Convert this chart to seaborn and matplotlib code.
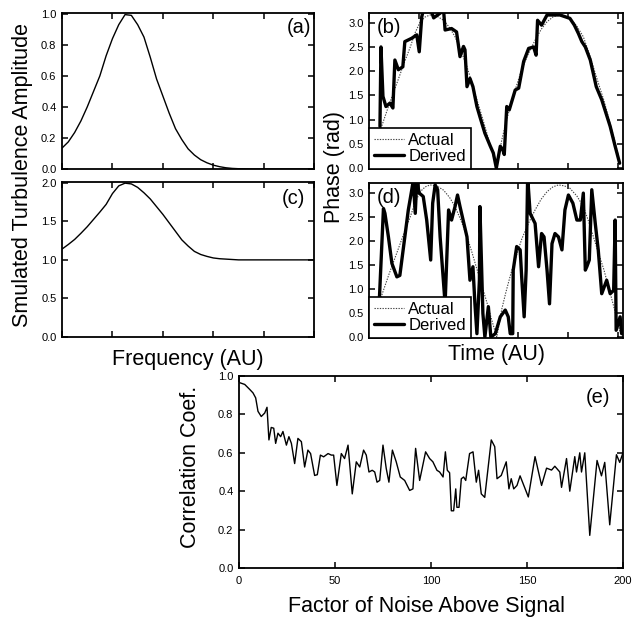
import matplotlib
matplotlib.use("Agg")
import matplotlib.pyplot as plt
import seaborn as sns

# (a) / (c) spectra, frequency in arbitrary units (0..1)
freq = [0.0, 0.025, 0.05, 0.075, 0.1, 0.125, 0.15, 0.175, 0.2, 0.225, 0.25,
        0.275, 0.3, 0.325, 0.35, 0.375, 0.4, 0.425, 0.45, 0.475, 0.5,
        0.525, 0.55, 0.575, 0.6, 0.625, 0.65, 0.675, 0.7, 0.75, 0.8, 0.9, 1.0]
amp_a = [0.135, 0.175, 0.235, 0.31, 0.40, 0.50, 0.60, 0.73, 0.84, 0.93, 0.995,
         0.99, 0.93, 0.85, 0.72, 0.58, 0.47, 0.36, 0.26, 0.19, 0.13,
         0.09, 0.06, 0.04, 0.025, 0.015, 0.008, 0.004, 0.002, 0.0, 0.0, 0.0, 0.0]
amp_c = [1.14, 1.20, 1.265, 1.345, 1.43, 1.525, 1.62, 1.72, 1.86, 1.96, 1.995,
         1.985, 1.94, 1.87, 1.79, 1.69, 1.59, 1.48, 1.37, 1.26, 1.18,
         1.11, 1.07, 1.045, 1.025, 1.015, 1.01, 1.005, 1.0, 1.0, 1.0, 1.0, 1.0]

# (b) / (d) phase, time in arbitrary units
t_actual = [0.24, 0.40, 0.56, 0.70, 0.83, 0.93, 1.03, 1.13, 1.23, 1.36, 1.50,
            1.62, 1.73, 1.85, 1.97, 2.07, 2.17, 2.27, 2.37, 2.45, 2.54, 2.57,
            2.67, 2.75, 2.84, 2.95, 3.07, 3.20, 3.34, 3.46, 3.58, 3.70, 3.81,
            3.93, 4.04, 4.18, 4.31, 4.41, 4.51, 4.61, 4.72, 4.81, 4.90, 4.98, 5.05]
ph_actual = [0.82, 1.30, 1.75, 2.15, 2.50, 2.80, 3.02, 3.12, 3.16, 3.14, 3.05,
             2.90, 2.71, 2.42, 2.09, 1.76, 1.41, 1.07, 0.72, 0.42, 0.10, 0.0,
             0.58, 0.92, 1.27, 1.65, 2.03, 2.35, 2.64, 2.86, 3.02, 3.12, 3.16,
             3.14, 3.09, 2.93, 2.71, 2.42, 2.09, 1.76, 1.41, 1.07, 0.72, 0.40, 0.10]

t_b = [0.22, 0.24, 0.28, 0.34, 0.42, 0.48, 0.52, 0.59, 0.68, 0.72, 0.86, 0.96,
       1.01, 1.06, 1.09, 1.25, 1.30, 1.50, 1.53, 1.66, 1.76, 1.83, 1.90, 1.93,
       1.97, 2.03, 2.09, 2.17, 2.23, 2.33, 2.44, 2.50, 2.56, 2.64, 2.69, 2.72,
       2.77, 2.82, 2.94, 3.01, 3.11, 3.21, 3.31, 3.36, 3.39, 3.47, 3.58, 3.84,
       4.04, 4.13, 4.21, 4.28, 4.35, 4.45, 4.57, 4.68, 4.85, 4.95, 5.04]
ph_b = [0.86, 2.50, 1.48, 1.27, 1.34, 1.24, 2.23, 2.03, 2.09, 2.61, 2.68, 2.75,
        2.40, 3.12, 3.25, 3.25, 3.10, 3.25, 2.85, 2.88, 2.81, 2.30, 2.51, 2.44,
        1.68, 1.85, 1.68, 1.27, 1.06, 0.72, 0.45, 0.31, 0.0, 0.45, 0.38, 0.28,
        1.27, 1.20, 1.61, 1.65, 2.20, 2.47, 2.50, 2.33, 3.05, 2.95, 3.16, 3.16,
        3.09, 2.95, 2.78, 2.61, 2.50, 2.23, 1.68, 1.41, 0.86, 0.45, 0.10]

t_d = [0.19, 0.21, 0.29, 0.32, 0.39, 0.46, 0.56, 0.62, 0.72, 0.79, 0.86, 0.89,
       0.93, 0.96, 1.01, 1.09, 1.16, 1.24, 1.28, 1.33, 1.38, 1.43, 1.53, 1.60,
       1.66, 1.73, 1.78, 1.83, 1.97, 2.03, 2.09, 2.13, 2.17, 2.22, 2.23, 2.29,
       2.33, 2.40, 2.45, 2.54, 2.64, 2.74, 2.80, 2.84, 2.89, 2.90, 2.97, 3.04,
       3.07, 3.12, 3.16, 3.19, 3.24, 3.34, 3.41, 3.47, 3.52, 3.58, 3.63, 3.68,
       3.74, 3.81, 3.88, 3.94, 4.01, 4.10, 4.18, 4.25, 4.31, 4.35, 4.38, 4.43,
       4.48, 4.55, 4.61, 4.68, 4.78, 4.85, 4.92, 4.95, 4.97, 5.05, 5.08]
ph_d = [0.0, 0.83, 2.67, 2.57, 2.08, 1.53, 1.25, 1.28, 2.08, 2.64, 3.06, 3.25,
        2.57, 3.25, 2.99, 2.92, 2.43, 1.60, 2.78, 3.16, 3.06, 2.08, 0.69, 2.64,
        2.43, 2.71, 2.95, 2.71, 2.08, 1.18, 1.46, 0.69, 0.07, 1.18, 2.71, 0.49,
        0.0, 0.63, 0.0, 0.07, 0.42, 0.56, 0.42, 0.07, 0.07, 1.39, 1.88, 1.81,
        1.25, 0.42, 1.39, 3.33, 2.57, 2.36, 1.46, 2.15, 2.08, 1.39, 0.69, 1.94,
        2.15, 2.08, 1.81, 2.64, 2.95, 2.78, 2.43, 2.43, 2.99, 1.39, 1.46, 1.60,
        3.06, 2.36, 1.81, 0.90, 1.18, 0.90, 0.97, 2.43, 0.14, 0.42, 0.07]

# (e) correlation vs noise factor
noise = [0.4, 3.0, 5.6, 7.3, 8.7, 9.9, 11.6, 13.4, 14.6, 15.6, 16.8, 18.1,
         19.1, 20.3, 21.7, 22.9, 24.7, 26.0, 27.3, 29.0, 30.7, 32.5, 34.2,
         35.9, 37.3, 39.4, 40.8, 42.4, 44.1, 46.4, 48.1, 49.3, 51.0, 53.3,
         55.0, 56.8, 59.0, 61.1, 62.9, 64.9, 66.3, 67.7, 69.4, 70.7, 71.9,
         73.3, 75.0, 76.7, 78.1, 79.9, 81.9, 84.0, 86.3, 88.9, 90.6, 92.0,
         94.1, 97.2, 99.3, 101.0, 103.1, 104.5, 106.3, 107.5, 108.5, 109.7,
         110.6, 111.8, 112.9, 113.5, 114.6, 115.8, 117.0, 118.1, 120.1, 121.9,
         123.6, 124.8, 126.2, 128.0, 131.4, 133.2, 134.4, 136.6, 139.2, 140.6,
         141.8, 143.1, 144.8, 146.4, 150.7, 154.2, 157.6, 160.2, 162.8, 164.5,
         167.1, 168.0, 170.6, 172.3, 174.9, 175.8, 177.5, 178.4, 180.1, 182.7,
         186.5, 188.8, 190.5, 193.1, 196.6, 198.3, 200.0]
corr = [0.965, 0.956, 0.930, 0.912, 0.886, 0.816, 0.789, 0.807, 0.837, 0.667,
        0.732, 0.728, 0.649, 0.702, 0.684, 0.711, 0.640, 0.684, 0.649, 0.544,
        0.675, 0.658, 0.526, 0.614, 0.596, 0.482, 0.486, 0.588, 0.579, 0.596,
        0.588, 0.588, 0.430, 0.596, 0.570, 0.640, 0.386, 0.553, 0.526, 0.614,
        0.588, 0.500, 0.509, 0.500, 0.447, 0.456, 0.640, 0.518, 0.447, 0.614,
        0.553, 0.474, 0.456, 0.404, 0.412, 0.623, 0.456, 0.605, 0.570, 0.553,
        0.509, 0.500, 0.474, 0.605, 0.509, 0.496, 0.298, 0.298, 0.412, 0.316,
        0.316, 0.465, 0.474, 0.456, 0.596, 0.605, 0.447, 0.509, 0.386, 0.368,
        0.667, 0.632, 0.465, 0.482, 0.553, 0.412, 0.465, 0.412, 0.430, 0.480,
        0.370, 0.580, 0.430, 0.520, 0.510, 0.530, 0.500, 0.420, 0.570, 0.400,
        0.580, 0.500, 0.600, 0.500, 0.600, 0.170, 0.560, 0.480, 0.550, 0.225,
        0.590, 0.550, 0.600]

sns.set_theme(style="ticks")
plt.rcParams["font.family"] = ["Liberation Sans", "DejaVu Sans"]
plt.rcParams.update({
    "axes.linewidth": 1.3,
    "axes.edgecolor": "black",
    "text.color": "black",
    "axes.labelcolor": "black",
})

fig = plt.figure(figsize=(6.4, 6.18), dpi=100)
ax_a = fig.add_axes([0.0969, 0.7265, 0.394, 0.2524])
ax_c = fig.add_axes([0.0969, 0.4547, 0.394, 0.2508])
ax_b = fig.add_axes([0.5766, 0.7265, 0.397, 0.2524])
ax_d = fig.add_axes([0.5766, 0.4531, 0.397, 0.2508])
ax_e = fig.add_axes([0.3734, 0.0809, 0.600, 0.3107])

# spectra
sns.lineplot(x=freq, y=amp_a, ax=ax_a, color="black", lw=1.0, estimator=None)
sns.lineplot(x=freq, y=amp_c, ax=ax_c, color="black", lw=1.0, estimator=None)
for ax, top, ticks in [(ax_a, 1.005, [0, 0.2, 0.4, 0.6, 0.8, 1.0]),
                       (ax_c, 2.01, [0, 0.5, 1.0, 1.5, 2.0])]:
    ax.set_xlim(0, 1)
    ax.set_ylim(0, top)
    ax.set_xticks([0, 0.2, 0.4, 0.6, 0.8, 1.0])
    ax.set_xticklabels([])
    ax.set_yticks(ticks)
    ax.set_yticklabels([f"{v:.1f}" for v in ticks])

# phases
for ax, t_der, ph_der in [(ax_b, t_b, ph_b), (ax_d, t_d, ph_d)]:
    sns.lineplot(x=t_actual, y=ph_actual, ax=ax, color="#444444", lw=0.8,
                 linestyle=(0, (1.2, 1.2)), estimator=None, label="Actual")
    sns.lineplot(x=t_der, y=ph_der, ax=ax, color="black", lw=2.4,
                 estimator=None, label="Derived")
    ax.set_xlim(0, 5.11)
    ax.set_ylim(-0.02, 3.2)
    ax.set_xticks([0, 1, 2, 3, 4, 5])
    ax.set_xticklabels([])
    ph_ticks = [0, 0.5, 1.0, 1.5, 2.0, 2.5, 3.0]
    ax.set_yticks(ph_ticks)
    ax.set_yticklabels([f"{v:.1f}" for v in ph_ticks])
    leg = ax.legend(loc="lower left", bbox_to_anchor=(0, 0), borderaxespad=0,
                    frameon=True, fancybox=False, edgecolor="black",
                    framealpha=1, fontsize=12, handlelength=1.8,
                    handletextpad=0.25, borderpad=0.3, labelspacing=0.08)
    leg.get_frame().set_linewidth(1.2)

# correlation
sns.lineplot(x=noise, y=corr, ax=ax_e, color="black", lw=1.0, estimator=None)
ax_e.set_xlim(0, 200)
ax_e.set_ylim(0, 1.0)
ax_e.set_xticks([0, 50, 100, 150, 200])
ax_e.set_yticks([0, 0.2, 0.4, 0.6, 0.8, 1.0])
ax_e.set_yticklabels(["0.0", "0.2", "0.4", "0.6", "0.8", "1.0"])

for ax in [ax_a, ax_b, ax_c, ax_d, ax_e]:
    ax.set_xlabel("")
    ax.set_ylabel("")
    ax.tick_params(axis="both", which="major", direction="in", length=4.5,
                   width=1.1, top=True, right=True, bottom=True, left=True,
                   color="black", labelcolor="black", labelsize=8)
    ax.tick_params(axis="y", pad=4)
ax_e.tick_params(axis="x", pad=6)

# panel tags
ax_a.text(0.988, 0.965, "(a)", transform=ax_a.transAxes, ha="right", va="top", fontsize=14.5)
ax_b.text(0.03, 0.965, "(b)", transform=ax_b.transAxes, ha="left", va="top", fontsize=14.5)
ax_c.text(0.965, 0.955, "(c)", transform=ax_c.transAxes, ha="right", va="top", fontsize=14.5)
ax_d.text(0.03, 0.965, "(d)", transform=ax_d.transAxes, ha="left", va="top", fontsize=14.5)
ax_e.text(0.966, 0.935, "(e)", transform=ax_e.transAxes, ha="right", va="top", fontsize=14.5)

# axis titles
fig.text(0.035, 0.717, "Smulated Turbulence Amplitude", rotation=90,
         ha="center", va="center", fontsize=15.5)
fig.text(0.294, 0.4094, "Frequency (AU)", ha="center", va="baseline", fontsize=15.5)
fig.text(0.522, 0.730, "Phase (rad)", rotation=90, ha="center", va="center", fontsize=15.5)
fig.text(0.775, 0.4175, "Time (AU)", ha="center", va="baseline", fontsize=15.5)
fig.text(0.297, 0.244, "Correlation Coef.", rotation=90, ha="center", va="center", fontsize=15.5)
fig.text(0.666, 0.0102, "Factor of Noise Above Signal", ha="center", va="baseline", fontsize=15.5)

fig.savefig("out.png", dpi=100)
